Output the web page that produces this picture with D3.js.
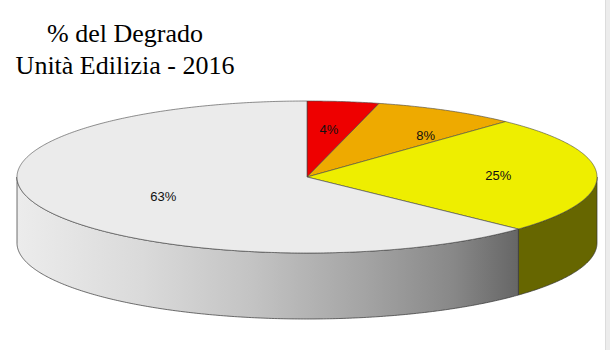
<!DOCTYPE html>
<html>
  <head>
    <script src="https://d3js.org/d3.v7.min.js" charset="utf-8"></script>
    <meta charset="UTF-8">
    <title>% del Degrado</title>
    <style>
      body { margin: 0; background: #fff; }
    </style>
  </head>
  <body>
    <svg class="chart"></svg>
    <script type="text/javascript">

     // data
     var categories = ["Rosso", "Arancio", "Giallo", "Grigio"];
     var values = [4, 8, 25, 63];
     var labels = ["4%", "8%", "25%", "63%"];
     var titleLines = ["% del Degrado", "Unità Edilizia - 2016"];

     var width = 610,
         height = 350,
         cx = 307,
         cy = 177,
         rx = 290,
         ry = 76,
         depth = 66;

     // label placement as fractions of the radius (horizontal varies per slice)
     var labelKx = [0.6, 0.85, 0.66, 0.54],
         labelKy = 0.63;

     var topColors = ["#ee0000", "#eeaa00", "#eeee00", "#ebebeb"];
     var sideColors = ["#770000", "#775500", "#666600", "url(#sideGrad)"];

     var chart = d3.select(".chart")
                   .attr("width", width)
                   .attr("height", height);

     // gradient for the grey side
     var grad = chart.append("defs").append("linearGradient")
                     .attr("id", "sideGrad")
                     .attr("gradientUnits", "userSpaceOnUse")
                     .attr("x1", cx - rx).attr("y1", 0)
                     .attr("x2", cx + rx * Math.sin(0.37 * 2 * Math.PI)).attr("y2", 0);
     [[0, "#ececec"], [0.25, "#dadada"], [0.47, "#c3c3c3"], [0.7, "#a3a3a3"], [0.87, "#888888"], [1, "#666666"]]
         .forEach(function(s) {
             grad.append("stop").attr("offset", s[0]).attr("stop-color", s[1]);
         });

     // scrollbar strip on the right
     chart.append("rect").attr("x", 605).attr("y", 0).attr("width", 5).attr("height", height)
          .attr("fill", "#ececec");
     chart.append("line").attr("x1", 605.5).attr("x2", 605.5).attr("y1", 0).attr("y2", height)
          .attr("stroke", "#dcdcdc");

     var pie = d3.pie().sort(null).value(function(d) { return d; });
     var arcs = pie(values);

     function px(a, k) { return cx + rx * (k || 1) * Math.sin(a); }
     function py(a, k) { return cy - ry * (k || 1) * Math.cos(a); }

     var line = d3.line();

     function arcPoints(a0, a1, dy) {
         var n = Math.max(2, Math.ceil((a1 - a0) / 0.01));
         return d3.range(n + 1).map(function(i) {
             var a = a0 + (a1 - a0) * i / n;
             return [px(a), py(a) + (dy || 0)];
         });
     }

     // sides (front half only, angles between pi/2 and 3pi/2)
     var sides = chart.append("g").attr("class", "sides");
     arcs.forEach(function(d, i) {
         var a0 = Math.max(d.startAngle, Math.PI / 2),
             a1 = Math.min(d.endAngle, 3 * Math.PI / 2);
         if (a1 <= a0) return;
         var pts = arcPoints(a0, a1, 0).concat(arcPoints(a0, a1, depth).reverse());
         sides.append("path")
              .attr("d", line(pts) + "Z")
              .attr("fill", sideColors[i])
              .attr("stroke", "#333")
              .attr("stroke-width", 0.7)
              .attr("stroke-linejoin", "round");
     });

     // tops
     var tops = chart.append("g").attr("class", "tops");
     arcs.forEach(function(d, i) {
         var pts = [[cx, cy]].concat(arcPoints(d.startAngle, d.endAngle, 0));
         tops.append("path")
             .attr("d", line(pts) + "Z")
             .attr("fill", topColors[i])
             .attr("stroke", "#444")
             .attr("stroke-width", 0.6)
             .attr("stroke-linejoin", "round");
     });

     // labels
     chart.append("g").attr("class", "labels")
          .selectAll("text")
          .data(arcs)
          .enter().append("text")
          .attr("x", function(d, i) { return px((d.startAngle + d.endAngle) / 2, labelKx[i]); })
          .attr("y", function(d) { return py((d.startAngle + d.endAngle) / 2, labelKy) + 4.5; })
          .attr("text-anchor", "middle")
          .attr("font-family", "Arial, 'Liberation Sans', sans-serif")
          .attr("font-size", 13)
          .attr("fill", "#111")
          .text(function(d, i) { return labels[i]; });

     // title
     chart.append("g").attr("class", "title")
          .selectAll("text")
          .data(titleLines)
          .enter().append("text")
          .attr("x", 125)
          .attr("y", function(d, i) { return 42 + i * 32; })
          .attr("text-anchor", "middle")
          .attr("font-family", "'Times New Roman', 'Liberation Serif', serif")
          .attr("font-size", 26)
          .attr("fill", "#000")
          .text(function(d) { return d; });

    </script>
  </body>
</html>
